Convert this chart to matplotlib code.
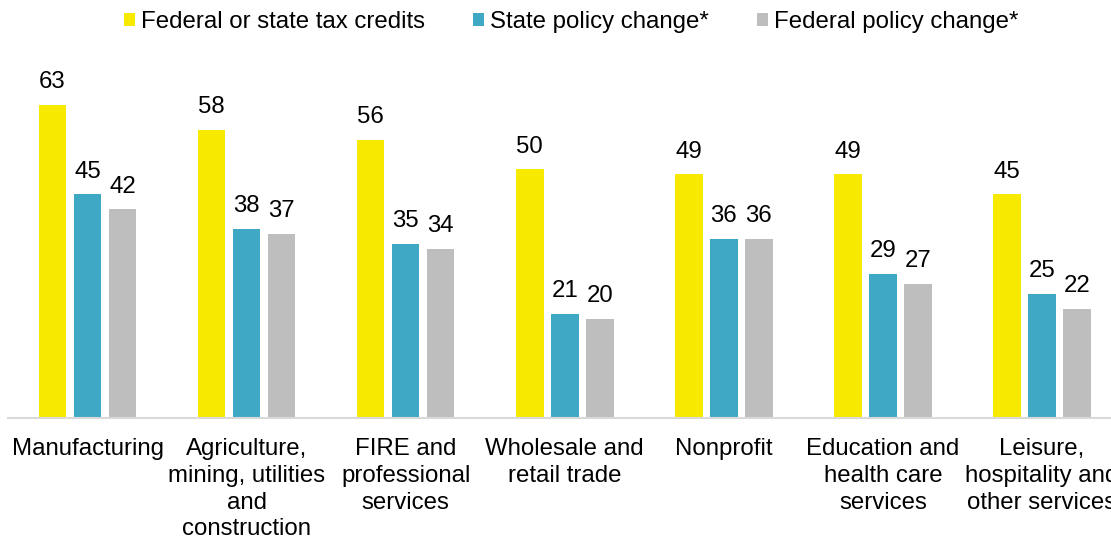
import numpy as np
import matplotlib
matplotlib.use("Agg")
import matplotlib.pyplot as plt
from matplotlib.patches import Patch

plt.rcParams["font.family"] = ["Liberation Sans", "DejaVu Sans"]

categories = [
    "Manufacturing",
    "Agriculture,\nmining, utilities\nand\nconstruction",
    "FIRE and\nprofessional\nservices",
    "Wholesale and\nretail trade",
    "Nonprofit",
    "Education and\nhealth care\nservices",
    "Leisure,\nhospitality and\nother services",
]
series_names = ["Federal or state tax credits", "State policy change*", "Federal policy change*"]
tax_credits = [63, 58, 56, 50, 49, 49, 45]
state_change = [45, 38, 35, 21, 36, 29, 25]
federal_change = [42, 37, 34, 20, 36, 27, 22]

colors = ["#F7EA00", "#3EA8C5", "#BEBEBE"]
fs = 17.3

W, H = 1111, 540
fig = plt.figure(figsize=(W / 100, H / 100), dpi=100)
# plot area runs a bit past the right edge, like the original
ax = fig.add_axes([8 / W, (H - 418) / H, (1121.5 - 8) / W, 348 / H])

x = np.arange(len(categories))
stride = 0.22
width = 0.173
for i, (vals, c) in enumerate(zip([tax_credits, state_change, federal_change], colors)):
    xs = x + (i - 1) * stride
    ax.bar(xs, vals, width=width, color=c, zorder=2)
    for xi, v in zip(xs, vals):
        ax.annotate(str(v), (xi, v), xytext=(0, 12), textcoords="offset points",
                    ha="center", va="baseline", fontsize=fs, color="#000000")

ax.set_xlim(-0.5, len(categories) - 0.5)
ax.set_ylim(0, 70)
ax.set_yticks([])
for s in ["top", "right", "left"]:
    ax.spines[s].set_visible(False)
ax.spines["bottom"].set_color("#D9D9D9")
ax.spines["bottom"].set_linewidth(1.5)
ax.set_xticks(x)
ax.set_xticklabels(categories, fontsize=fs, linespacing=1.28)
ax.tick_params(axis="x", length=0, pad=14.5)

handles = [Patch(facecolor=c, edgecolor="none") for c in colors]
fig.legend(handles, series_names, loc="center", bbox_to_anchor=(0.514, 1 - 22 / H),
           ncol=3, frameon=False, fontsize=fs, handlelength=0.46, handleheight=0.5,
           handletextpad=0.25, columnspacing=2.0, borderaxespad=0, borderpad=0)

fig.savefig("out.png", dpi=100)
